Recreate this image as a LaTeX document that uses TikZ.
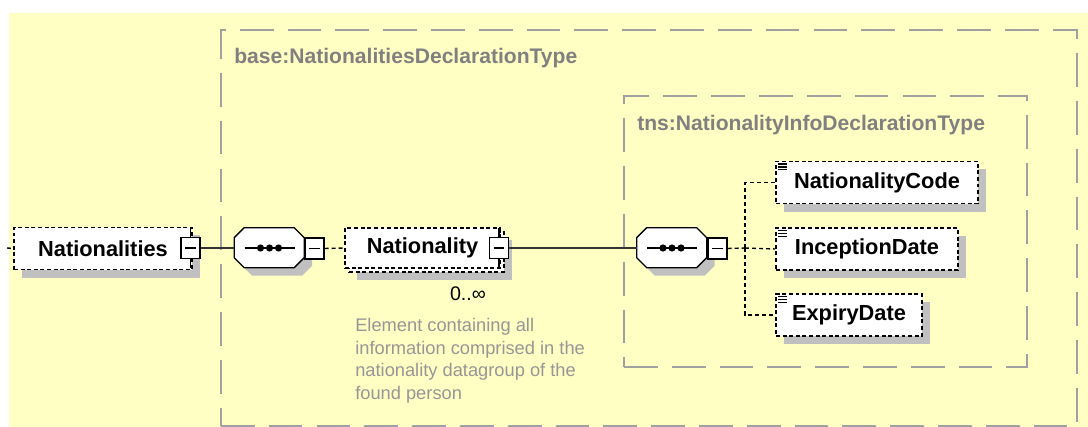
\documentclass[tikz,border=0pt]{standalone}
\usepackage{fontspec}
\setmainfont{Liberation Sans}
\usetikzlibrary{shadows, calc}
\definecolor{bg_yellow}{RGB}{255, 255, 196}
\definecolor{frame_gray}{RGB}{160, 160, 160}
\definecolor{title_gray}{RGB}{128, 128, 128}
\definecolor{note_gray}{RGB}{150, 150, 150}
\definecolor{shadow_gray}{RGB}{192, 192, 192}

\begin{document}
\begin{tikzpicture}[
    x=0.025cm, y=-0.025cm,
    shadowed/.style={
        drop shadow={shadow xshift=0.2cm, shadow yshift=-0.2cm, fill=shadow_gray, opacity=1}
    },
    element/.style={
        rectangle,
        draw=black,
        fill=white,
        line width=1.1pt,
        dash pattern=on 2.8pt off 1.9pt,
        minimum width=#1,
        minimum height=1.05cm,
        inner sep=0pt,
        font=\fontsize{15.5}{18}\selectfont\bfseries
    },
    simple/.style={
        path picture={
            \draw[solid, line width=0.8pt]
                ([xshift=1.6pt,yshift=-1.8pt]path picture bounding box.north west) -- ++(6pt,0)
                ([xshift=1.6pt,yshift=-3.9pt]path picture bounding box.north west) -- ++(6pt,0)
                ([xshift=1.6pt,yshift=-6pt]path picture bounding box.north west) -- ++(6pt,0);
        }
    },
    collapse/.style={
        rectangle,
        draw=black,
        fill=white,
        line width=0.9pt,
        minimum width=0.475cm,
        minimum height=0.525cm,
        inner sep=0pt,
        path picture={
            \draw[solid, line width=0.8pt]
                ($(path picture bounding box.west)!0.22!(path picture bounding box.east)$) --
                ($(path picture bounding box.west)!0.78!(path picture bounding box.east)$);
        }
    },
    compositor/.style={
        rectangle,
        minimum width=1.75cm,
        minimum height=1cm,
        inner sep=0pt
    },
    octagon/.style={
        draw=black,
        fill=white,
        line width=1pt,
        shadowed
    },
    typebox/.style={
        rectangle,
        draw=frame_gray,
        line width=1.3pt,
        dash pattern=on 24pt off 10pt,
        inner sep=0pt
    },
    typelabel/.style={
        text=title_gray,
        anchor=west,
        inner sep=0pt,
        font=\fontsize{15}{18}\selectfont\bfseries
    },
    note/.style={
        text=note_gray,
        align=left,
        anchor=north west,
        inner sep=0pt,
        font=\fontsize{13}{16}\selectfont
    },
    link/.style={
        line width=1pt,
        draw=black!80
    },
    optlink/.style={
        line width=1pt,
        draw=black,
        dash pattern=on 2.8pt off 2.2pt
    }
]

% canvas
\useasboundingbox (0,0) rectangle (1088,427);
\fill[bg_yellow] (9,13) rectangle (1088,427);

% complex type frames
\node[typebox, minimum width=21.4cm, minimum height=9.9cm] (basetype) at (649,228) {};
\node[typelabel] (basetitle) at (234,58) {base:NationalitiesDeclarationType};
\node[typebox, minimum width=10.075cm, minimum height=6.775cm] (tnstype) at (825.5,231.5) {};
\node[typelabel] (tnstitle) at (637,125) {tns:NationalityInfoDeclarationType};

% root element
\coordinate (entry) at (7,248);
\node[element=4.45cm, shadowed] (nats) at (103,248.5) {Nationalities};
\node[collapse] (natsc) at (190.5,248) {};
\draw[line width=0.9pt] (natsc.north) -- +(0,-9);
\draw[line width=0.9pt] (natsc.south) -- +(0,9);

% first sequence
\node[compositor] (seqa) at (269.5,248) {};
\filldraw[octagon] (seqa.north west) ++(10,0) -- ++(50,0) -- ++(10,10) -- ++(0,20)
    -- ++(-10,10) -- ++(-50,0) -- ++(-10,-10) -- ++(0,-20) -- cycle;
\draw[line width=1pt] ($(seqa.center)+(-25,0)$) -- ($(seqa.center)+(25,0)$);
\fill ($(seqa.center)+(-9,0)$) circle (3.6);
\fill ($(seqa.center)+(0,0)$) circle (3.6);
\fill ($(seqa.center)+(9,0)$) circle (3.6);
\node[collapse] (seqac) at (314.5,248.5) {};

% repeated element Nationality
\node[element=3.875cm, minimum height=1cm, shadowed] (natback) at (426.5,252) {};
\node[element=3.875cm, minimum height=1cm] (nat) at (422.5,248) {Nationality};
\node[collapse] (natc) at (499,248) {};
\draw[line width=0.9pt] (natc.north) -- +(0,-9);
\draw[line width=0.9pt] (natc.south) -- +(0,9);
\node[font=\fontsize{14}{16}\selectfont, inner sep=0pt] (natocc) at (468,294) {0..∞};
\node[note] (natnote) at (355,318) {Element containing all\\information comprised in the\\nationality datagroup of the\\found person};

% second sequence
\node[compositor] (seqb) at (672,248) {};
\filldraw[octagon] (seqb.north west) ++(10,0) -- ++(50,0) -- ++(10,10) -- ++(0,20)
    -- ++(-10,10) -- ++(-50,0) -- ++(-10,-10) -- ++(0,-20) -- cycle;
\draw[line width=1pt] ($(seqb.center)+(-25,0)$) -- ($(seqb.center)+(25,0)$);
\fill ($(seqb.center)+(-9,0)$) circle (3.6);
\fill ($(seqb.center)+(0,0)$) circle (3.6);
\fill ($(seqb.center)+(9,0)$) circle (3.6);
\node[collapse] (seqbc) at (717.5,248.5) {};

% child elements
\node[element=5.05cm, shadowed, simple] (natcode) at (877,182.5) {NationalityCode};
\node[element=4.55cm, shadowed, simple] (incdate) at (867,249) {InceptionDate};
\node[element=3.65cm, shadowed, simple] (expdate) at (849,315) {ExpiryDate};

% connectors
\coordinate (fork) at (745,248);
\draw[optlink] (entry) -- (nats.west);
\draw[link] (natsc.east) -- (seqa.west);
\draw[optlink] (seqac.east) -- (nat.west);
\draw[link] (natc.east) -- (seqb.west);
\draw[optlink] (seqbc.east) -- (fork);
\draw[optlink] (fork) |- (natcode.west);
\draw[optlink] (fork) -- (incdate.west);
\draw[optlink] (fork) |- (expdate.west);

\end{tikzpicture}
\end{document}
